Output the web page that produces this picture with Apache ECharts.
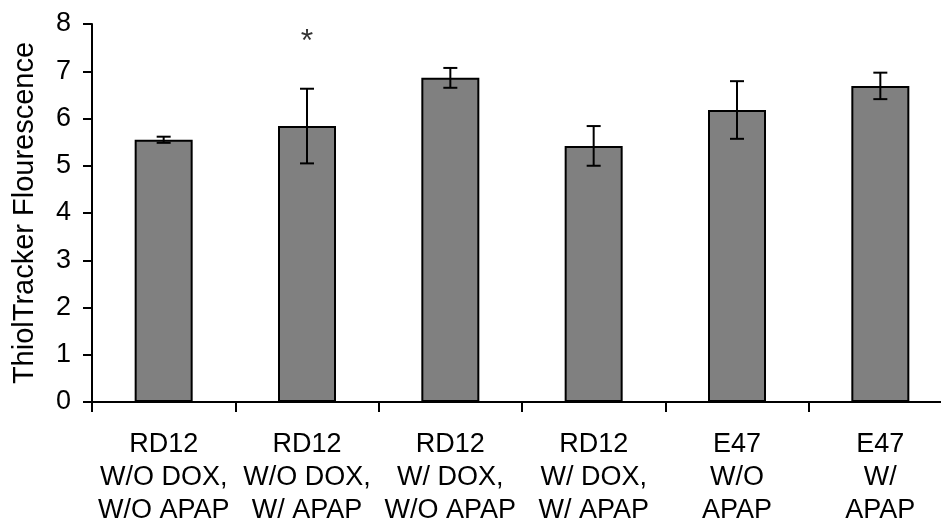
<!DOCTYPE html>
<html>
<head>
<meta charset="utf-8">
<script src="https://cdn.jsdelivr.net/npm/echarts@6/dist/echarts.min.js"></script>
<style>html,body{margin:0;padding:0;background:#fff;}#c{width:941px;height:522px;}</style>
</head>
<body>
<div id="c"></div>
<script>
const categories = [
  'RD12\nW/O DOX,\nW/O APAP',
  'RD12\nW/O DOX,\nW/ APAP',
  'RD12\nW/ DOX,\nW/O APAP',
  'RD12\nW/ DOX,\nW/ APAP',
  'E47\nW/O\nAPAP',
  'E47\nW/\nAPAP'
];
const values = [5.55, 5.84, 6.86, 5.42, 6.18, 6.69];
const errors = [0.065, 0.79, 0.21, 0.42, 0.61, 0.28];
const yTicks = [0, 1, 2, 3, 4, 5, 6, 7, 8];
const starMarks = [[1, 7.62, '*']];

const FONT = 'Liberation Sans, Arial, sans-serif';
const chart = echarts.init(document.getElementById('c'), null, {renderer: 'canvas'});
chart.setOption({
  animation: false,
  backgroundColor: '#fff',
  grid: {left: 92, top: 24, width: 860, height: 378, containLabel: false, outerBoundsMode: 'none'},
  xAxis: {
    type: 'category',
    data: categories,
    axisLine: {lineStyle: {color: '#000', width: 2}},
    axisTick: {show: true, length: 10, lineStyle: {color: '#000', width: 2}},
    axisLabel: {color: '#000', fontFamily: FONT, fontSize: 27, lineHeight: 33, margin: 26, interval: 0}
  },
  yAxis: {
    type: 'value',
    min: yTicks[0],
    max: yTicks[yTicks.length - 1],
    interval: 1,
    name: 'ThiolTracker Flourescence',
    nameLocation: 'middle',
    nameGap: 53,
    nameTextStyle: {color: '#000', fontFamily: FONT, fontSize: 29},
    axisLine: {show: true, lineStyle: {color: '#000', width: 2}},
    axisTick: {show: true, length: 9, lineStyle: {color: '#000', width: 2}},
    axisLabel: {color: '#000', fontFamily: FONT, fontSize: 27, margin: 21},
    splitLine: {show: false}
  },
  series: [
    {
      type: 'bar',
      data: values,
      barWidth: 58,
      itemStyle: {color: '#808080', borderColor: '#000', borderWidth: 2}
    },
    {
      type: 'custom',
      data: values.map((v, i) => [i, v - errors[i], v + errors[i]]),
      z: 10,
      renderItem: function (params, api) {
        const x = api.value(0);
        const lo = api.coord([x, api.value(1)]);
        const hi = api.coord([x, api.value(2)]);
        const w = 7;
        const style = {stroke: '#000', lineWidth: 2};
        return {
          type: 'group',
          children: [
            {type: 'line', shape: {x1: lo[0], y1: lo[1], x2: hi[0], y2: hi[1]}, style: style},
            {type: 'line', shape: {x1: hi[0] - w, y1: hi[1], x2: hi[0] + w, y2: hi[1]}, style: style},
            {type: 'line', shape: {x1: lo[0] - w, y1: lo[1], x2: lo[0] + w, y2: lo[1]}, style: style}
          ]
        };
      }
    },
    {
      type: 'scatter',
      data: starMarks.map(d => [d[0], d[1]]),
      symbolSize: 0,
      label: {
        show: true,
        position: 'inside',
        formatter: function (p) { return starMarks[p.dataIndex][2]; },
        color: '#000',
        fontFamily: FONT,
        fontSize: 32
      }
    }
  ]
});
</script>
</body>
</html>
